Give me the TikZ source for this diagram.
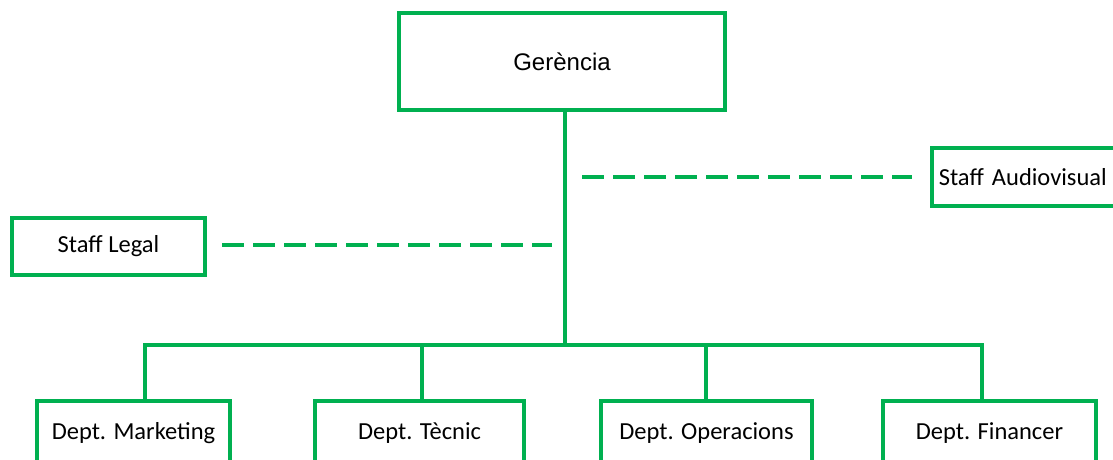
\documentclass[tikz,border=0pt]{standalone}
\usepackage{fontspec}
\setmainfont{Carlito}
\newfontfamily\arialfont{Liberation Sans}
\definecolor{grn}{HTML}{00B050}
\begin{document}
\begin{tikzpicture}[x=1pt,y=-1pt,
  box/.style={draw=grn,line width=3.5pt,fill=white,inner sep=0pt,font=\fontsize{24.5}{28}\selectfont},
  conn/.style={draw=grn,line width=3.5pt},
  dashconn/.style={draw=grn,line width=3.5pt,dash pattern=on 22pt off 9pt}]
\clip (0,0) rectangle (1113,459);
\node[box,minimum width=326pt,minimum height=97pt,font=\arialfont\fontsize{24}{28}\selectfont] (ger) at (562,61.5) {Gerència};
\node[box,minimum width=193pt,minimum height=57pt] (legal) at (108.5,246.5) {Staff Legal};
\node[box,minimum width=200pt,minimum height=58pt,text width=190pt,align=left,anchor=west] (audio) at (930,177) {\hspace*{2pt}Staff Audiovisual};
\node[box,minimum width=193pt,minimum height=64pt] (mkt) at (133.5,433) {Dept. Marketing};
\node[box,minimum width=209pt,minimum height=64pt] (tec) at (419.5,433) {Dept. Tècnic};
\node[box,minimum width=211pt,minimum height=64pt] (ope) at (706.5,433) {Dept. Operacions};
\node[box,minimum width=213pt,minimum height=64pt] (fin) at (989.5,433) {Dept. Financer};
\coordinate (bus) at (565,345);
\coordinate (lend) at (552,245);
\coordinate (lstart) at (222,245);
\coordinate (astart) at (582,177);
\coordinate (aend) at (912,177);
\draw[conn] (ger.south -| bus) -- (bus);
\draw[conn] (mkt.north -| 145,0) -- (145,345) -- (982,345) -- (fin.north -| 982,0);
\draw[conn] (tec.north -| 422,0) -- (422,345);
\draw[conn] (ope.north -| 706,0) -- (706,345);
\draw[dashconn] (lstart) -- (lend);
\draw[dashconn] (astart) -- (aend);
\end{tikzpicture}
\end{document}
